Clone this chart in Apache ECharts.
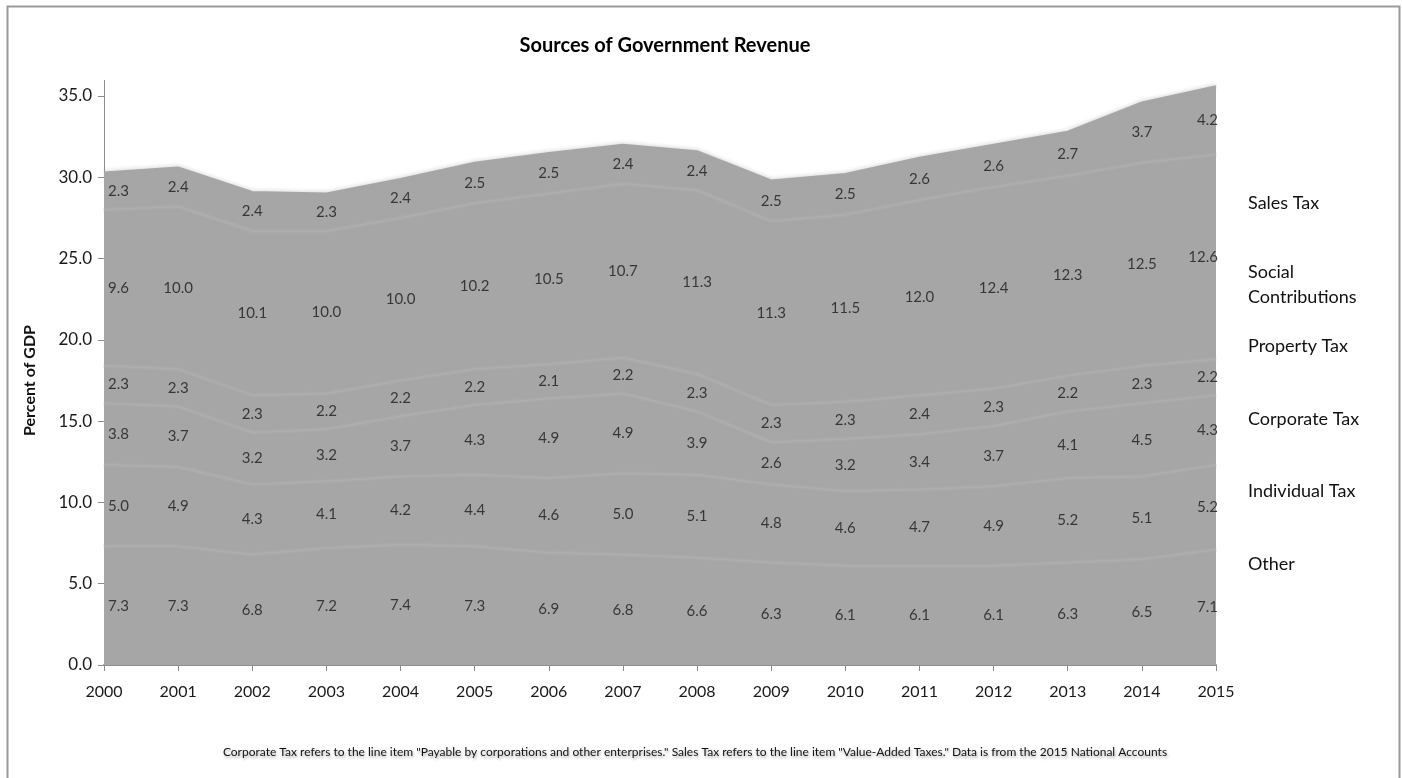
<!DOCTYPE html>
<html>
<head>
<meta charset="utf-8">
<title>Sources of Government Revenue</title>
<script src="https://cdn.jsdelivr.net/npm/echarts@6/dist/echarts.min.js"></script>
<style>
  html, body { margin: 0; padding: 0; background: #fff; }
  #chart { width: 1402px; height: 778px; }
</style>
</head>
<body>
<div id="chart"></div>
<script>
// Revenue sources, percent of GDP, 2000-2015
const years = ['2000','2001','2002','2003','2004','2005','2006','2007','2008','2009','2010','2011','2012','2013','2014','2015'];
const other         = [7.3, 7.3, 6.8, 7.2, 7.4, 7.3, 6.9, 6.8, 6.6, 6.3, 6.1, 6.1, 6.1, 6.3, 6.5, 7.1];
const individualTax = [5.0, 4.9, 4.3, 4.1, 4.2, 4.4, 4.6, 5.0, 5.1, 4.8, 4.6, 4.7, 4.9, 5.2, 5.1, 5.2];
const corporateTax  = [3.8, 3.7, 3.2, 3.2, 3.7, 4.3, 4.9, 4.9, 3.9, 2.6, 3.2, 3.4, 3.7, 4.1, 4.5, 4.3];
const propertyTax   = [2.3, 2.3, 2.3, 2.2, 2.2, 2.2, 2.1, 2.2, 2.3, 2.3, 2.3, 2.4, 2.3, 2.2, 2.3, 2.2];
const socialContrib = [9.6, 10.0, 10.1, 10.0, 10.0, 10.2, 10.5, 10.7, 11.3, 11.3, 11.5, 12.0, 12.4, 12.3, 12.5, 12.6];
const salesTax      = [2.3, 2.4, 2.4, 2.3, 2.4, 2.5, 2.5, 2.4, 2.4, 2.5, 2.5, 2.6, 2.6, 2.7, 3.7, 4.2];

const seriesNames = ['Other', 'Individual Tax', 'Corporate Tax', 'Property Tax', 'Social Contributions', 'Sales Tax'];
const seriesData = [other, individualTax, corporateTax, propertyTax, socialContrib, salesTax];
const yTicks = { min: 0, max: 35, interval: 5 };

const FONT = 'Lato, "Open Sans", sans-serif';
const AREA = '#a6a6a6';
const SEAM = '#adadad';

// stacked bands
const areaSeries = seriesData.map((vals, k) => ({
  name: seriesNames[k],
  type: 'line',
  stack: 'revenue',
  data: vals,
  symbol: 'none',
  smooth: false,
  clip: false,
  z: 2,
  areaStyle: { color: AREA, opacity: 1 },
  lineStyle: k === seriesData.length - 1
    ? { color: AREA, width: 2, shadowBlur: 4, shadowColor: 'rgba(166,166,166,0.8)' }
    : { color: SEAM, width: 2, shadowBlur: 3, shadowColor: 'rgba(176,176,176,0.9)' },
  emphasis: { disabled: true },
  silent: true
}));

// value labels centred within each band
const labelPoints = [];
const cumulative = years.map(() => 0);
seriesData.forEach((vals) => {
  vals.forEach((v, i) => {
    const mid = cumulative[i] + v / 2;
    cumulative[i] += v;
    const first = i === 0, last = i === years.length - 1;
    labelPoints.push({
      value: [i, mid, v],
      label: {
        align: first ? 'left' : (last ? 'right' : 'center'),
        offset: first ? [4, 0] : (last ? [2, 0] : [0, 0])
      }
    });
  });
});

const labelSeries = {
  type: 'scatter',
  data: labelPoints,
  symbolSize: 0,
  clip: false,
  z: 5,
  silent: true,
  label: {
    show: true,
    position: 'inside',
    color: '#1a1a1a',
    fontFamily: FONT,
    fontSize: 15,
    formatter: p => p.value[2].toFixed(1)
  }
};

// band names beside the plot
const sideLabels = [
  { text: 'Sales Tax', y: 203 },
  { text: 'Social\nContributions', y: 285 },
  { text: 'Property Tax', y: 346 },
  { text: 'Corporate Tax', y: 419 },
  { text: 'Individual Tax', y: 491 },
  { text: 'Other', y: 564 }
];

const footnote = 'Corporate Tax refers to the line item "Payable by corporations and other enterprises." Sales Tax refers to the line item "Value-Added Taxes." Data is from the 2015 National Accounts';

const chart = echarts.init(document.getElementById('chart'), null, { renderer: 'canvas' });
chart.setOption({
  animation: false,
  backgroundColor: '#fff',
  grid: { left: 104, right: 186, top: 96, bottom: 113, containLabel: false },
  xAxis: {
    type: 'category',
    data: years,
    boundaryGap: false,
    axisLine: { lineStyle: { color: '#8c8c8c', width: 2 } },
    axisTick: { show: true, alignWithLabel: true, length: 6, lineStyle: { color: '#8c8c8c', width: 1 } },
    axisLabel: { color: '#1a1a1a', fontFamily: FONT, fontSize: 16, margin: 19 },
    splitLine: { show: false }
  },
  yAxis: {
    type: 'value',
    min: yTicks.min,
    max: yTicks.max,
    interval: yTicks.interval,
    name: 'Percent of GDP',
    nameLocation: 'middle',
    nameGap: 66,
    nameTextStyle: { color: '#111', fontFamily: FONT, fontSize: 16, fontWeight: 'bold' },
    axisLine: { show: true, lineStyle: { color: '#8c8c8c', width: 1 } },
    axisTick: { show: true, length: 6, lineStyle: { color: '#8c8c8c' } },
    axisLabel: { color: '#1a1a1a', fontFamily: FONT, fontSize: 17, margin: 12, formatter: v => v.toFixed(1) },
    splitLine: { show: false }
  },
  series: [...areaSeries, labelSeries],
  graphic: [
    {
      type: 'rect', silent: true, z: -1,
      shape: { x: 7.5, y: 6.5, width: 1392, height: 820 },
      style: { fill: 'none', stroke: '#9a9a9a', lineWidth: 2 }
    },
    {
      // axis line continues a little past the top tick
      type: 'line', silent: true, z: 1,
      shape: { x1: 104.5, y1: 80, x2: 104.5, y2: 96 },
      style: { stroke: '#8c8c8c', lineWidth: 1 }
    },
    {
      type: 'text', silent: true, x: 665, y: 46,
      style: { text: 'Sources of Government Revenue', textAlign: 'center', textVerticalAlign: 'middle',
               fill: '#000', font: 'bold 20px ' + FONT }
    },
    ...sideLabels.map(s => ({
      type: 'text', silent: true, x: 1248, y: s.y,
      style: { text: s.text, textAlign: 'left', textVerticalAlign: 'middle',
               fill: '#111', font: '18px ' + FONT, lineHeight: 25 }
    })),
    {
      type: 'text', silent: true, x: 695, y: 752,
      style: { text: footnote, textAlign: 'center', textVerticalAlign: 'middle',
               fill: '#111', font: '12px ' + FONT,
               textShadowColor: 'rgba(0,0,0,0.35)', textShadowBlur: 3, textShadowOffsetX: 1, textShadowOffsetY: 2 }
    }
  ]
});
</script>
</body>
</html>
